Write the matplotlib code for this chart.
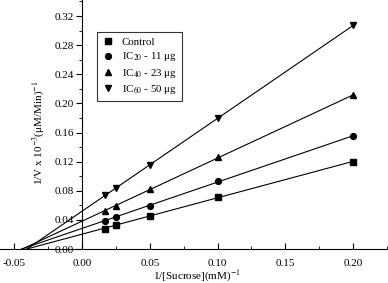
import numpy as np
import matplotlib
matplotlib.use('Agg')
from matplotlib import pyplot as plt
from matplotlib.ticker import MultipleLocator, FormatStrFormatter

plt.rcParams['font.family'] = ['Liberation Serif', 'DejaVu Serif']
plt.rcParams['mathtext.fontset'] = 'stix'

# 1/[Sucrose] values
x = [1 / 60, 0.025, 0.05, 0.10, 0.20]

control = [0.028, 0.033, 0.0457, 0.071, 0.120]
ic20 = [0.0385, 0.0444, 0.0595, 0.0934, 0.155]
ic40 = [0.0518, 0.0595, 0.0824, 0.126, 0.211]
ic60 = [0.074, 0.0834, 0.115, 0.1795, 0.307]

series = [control, ic20, ic40, ic60]
labels = ['Control', 'IC$_{20}$ - 11 \u03bcg', 'IC$_{40}$ - 23 \u03bcg', 'IC$_{60}$ - 50 \u03bcg']
markers = ['s', 'o', '^', 'v']

fig = plt.figure(figsize=(3.88, 2.83), dpi=100)
ax = fig.add_axes([0.0, 0.12, 1.0, 0.88])

xx = np.array(x)
for ys, lab, m in zip(series, labels, markers):
    slope, icpt = np.polyfit(xx, ys, 1)
    x0 = -icpt / slope
    ax.plot([x0, xx[-1]], [0, slope * xx[-1] + icpt], color='k', lw=0.8)
    ax.plot(xx, ys, linestyle='none', marker=m, color='k', ms=4.2, label=lab)

ax.set_xlim(-0.0605, 0.2258)
ax.set_ylim(0, 0.342)

ax.spines['left'].set_position(('data', 0))
ax.spines['right'].set_visible(False)
ax.spines['top'].set_visible(False)
ax.spines['left'].set_linewidth(0.8)
ax.spines['bottom'].set_linewidth(0.8)

ax.xaxis.set_major_locator(MultipleLocator(0.05))
ax.xaxis.set_minor_locator(MultipleLocator(0.025))
ax.yaxis.set_major_locator(MultipleLocator(0.04))
ax.yaxis.set_minor_locator(MultipleLocator(0.02))
ax.xaxis.set_major_formatter(FormatStrFormatter('%.2f'))
ax.yaxis.set_major_formatter(FormatStrFormatter('%.2f'))
ax.tick_params(axis='x', which='major', direction='in', length=4, labelsize=8, pad=7)
ax.tick_params(axis='x', which='minor', direction='in', length=2)
ax.tick_params(axis='y', which='major', direction='out', length=4, labelsize=8, pad=2)
ax.tick_params(axis='y', which='minor', direction='out', length=2)

ax.set_ylabel('1/V x 10$^{-3}$(\u03bcM/Min)$^{-1}$', fontsize=8)
ax.yaxis.set_label_coords(0.119, 0.466)
ax.set_xlabel('1/[Sucrose](mM)$^{-1}$', fontsize=8)
ax.xaxis.set_label_coords(0.508, -0.08)

leg = ax.legend(loc='upper left', bbox_to_anchor=(0.25, 0.871), fontsize=7.8,
                frameon=True, fancybox=False, edgecolor='k', handletextpad=0.8,
                handlelength=1.0, borderpad=0.5, labelspacing=0.3, borderaxespad=0)
leg.get_frame().set_linewidth(0.8)

plt.savefig('out.png', dpi=100)
